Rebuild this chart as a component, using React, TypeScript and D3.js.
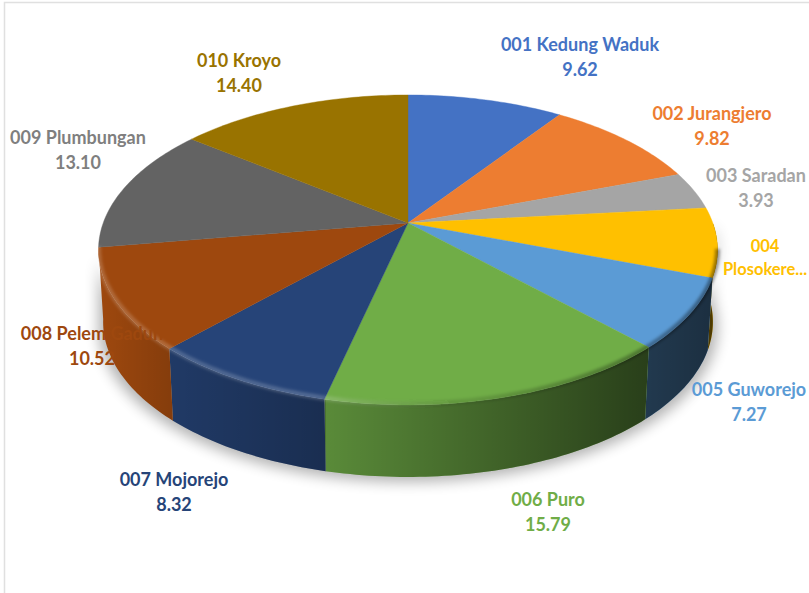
// App.tsx
import React, { useEffect, useRef } from 'react';
import * as d3 from 'd3';

const categories = ['001 Kedung Waduk', '002 Jurangjero', '003 Saradan', '004 Plosokere...', '005 Guworejo', '006 Puro', '007 Mojorejo', '008 Pelem Gaduh', '009 Plumbungan', '010 Kroyo'];
const values = [9.62, 9.82, 3.93, 7.23, 7.27, 15.79, 8.32, 10.52, 13.10, 14.40];
const colors = ['#4472c4', '#ed7d31', '#a5a5a5', '#ffc000', '#5b9bd5', '#70ad47', '#264478', '#9e480e', '#636363', '#997300'];
const labelColors = ['#4472c4', '#ed7d31', '#a5a5a5', '#ffc000', '#5b9bd5', '#70ad47', '#264478', '#9e480e', '#7f7f7f', '#997300'];
// which labels print the value under the name
const showValue = [true, true, true, false, true, true, true, true, true, true];

const width = 809;
const height = 593;

// label centre x / first baseline
const labelX = [580, 712, 756, 765, 749, 548, 174, 92, 78, 239];
const labelY = [51, 120, 182, 252, 396, 506, 486, 340, 144, 67];

const cx = 408;
const cy = 223;
const rx = 304.8;
const ry = 150.3;
const persp = 0.1739; // perspective squeeze towards the back of the pie
const wallH = 72;

const project = (a: number, drop = 0, sx = 1): [number, number] => {
  const d = 1 + persp * Math.cos(a);
  return [cx + (sx * rx * Math.sin(a)) / d, cy + drop - (ry * Math.cos(a)) / d];
};

const arcPoints = (a0: number, a1: number, drop = 0, sx = 1) => {
  const n = Math.max(2, Math.ceil((Math.abs(a1 - a0) * 180) / Math.PI));
  return d3.range(n + 1).map(i => project(a0 + ((a1 - a0) * i) / n, drop, sx));
};

const App = () => {
  const ref = useRef<SVGSVGElement>(null);

  useEffect(() => {
    const svg = d3.select(ref.current);
    svg.selectAll('*').remove();

    const slices = d3.pie<number>().sort(null)(values);
    const line = d3.line();
    const wallFrom = Math.PI / 2;
    const wallTo = (261 * Math.PI) / 180;

    const defs = svg.append('defs');
    defs.append('filter').attr('id', 'soft').attr('x', '-20%').attr('y', '-20%').attr('width', '140%').attr('height', '140%')
      .append('feGaussianBlur').attr('stdDeviation', 7);
    defs.append('filter').attr('id', 'rimBlur').attr('x', '-5%').attr('y', '-5%').attr('width', '110%').attr('height', '110%')
      .append('feGaussianBlur').attr('stdDeviation', 1.6);

    const wallGrad = defs.append('linearGradient').attr('id', 'wallShade')
      .attr('gradientUnits', 'userSpaceOnUse').attr('x1', 100).attr('x2', 715).attr('y1', 0).attr('y2', 0);
    [[0, 0], [0.11, 0.15], [0.368, 0.33], [0.368, 0.2], [0.87, 0.62], [1, 0.7]].forEach(([o, op]) => {
      wallGrad.append('stop').attr('offset', o).attr('stop-color', '#000').attr('stop-opacity', op);
    });

    const rimGrad = defs.append('linearGradient').attr('id', 'rimShade')
      .attr('gradientUnits', 'userSpaceOnUse').attr('x1', 100).attr('x2', 715).attr('y1', 0).attr('y2', 0);
    [['#fff', 0, 0.18], ['#fff', 0.35, 0.2], ['#000', 0.6, 0.12], ['#000', 1, 0.4]].forEach(([c, o, op]) => {
      rimGrad.append('stop').attr('offset', o as number).attr('stop-color', c as string).attr('stop-opacity', op as number);
    });

    // chart frame
    svg.append('rect').attr('x', 4.5).attr('y', 2.5).attr('width', width + 10).attr('height', height + 10)
      .attr('fill', '#fff').attr('stroke', '#e0e0e0').attr('stroke-width', 1.5);

    // drop shadow under the wall
    const shadow = arcPoints(wallFrom, wallTo, wallH + 5, 1);
    svg.append('path')
      .attr('d', line(shadow.concat(arcPoints(wallTo, wallFrom, 0))) + 'Z')
      .attr('fill', '#000').attr('opacity', 0.3).attr('filter', 'url(#soft)');

    // walls
    const wallPath = (a0: number, a1: number) =>
      line(arcPoints(a0, a1, 0).concat(arcPoints(a1, a0, wallH, 0.985))) + 'Z';

    slices.forEach((s, i) => {
      const a0 = Math.max(s.startAngle, wallFrom);
      const a1 = Math.min(s.endAngle, wallTo);
      if (a1 <= a0) return;
      svg.append('path').attr('d', wallPath(a0, a1)).attr('fill', colors[i]);
      svg.append('path').attr('d', wallPath(a0, a1)).attr('fill', 'url(#wallShade)');
    });

    // top faces
    slices.forEach((s, i) => {
      const pts = ([[cx, cy]] as [number, number][]).concat(arcPoints(s.startAngle, s.endAngle));
      svg.append('path').attr('d', line(pts) + 'Z').attr('fill', colors[i]).attr('stroke', colors[i]).attr('stroke-width', 0.4);
    });

    // bevel along the front rim
    svg.append('path')
      .attr('d', line(arcPoints((100 * Math.PI) / 180, wallTo, -1)))
      .attr('fill', 'none').attr('stroke', 'url(#rimShade)').attr('stroke-width', 5).attr('filter', 'url(#rimBlur)');

    // labels
    const labels = svg.append('g')
      .attr('font-family', 'Lato, "Open Sans", sans-serif')
      .attr('font-weight', 700)
      .attr('text-anchor', 'middle')
      .selectAll('text')
      .data(categories)
      .enter()
      .append('text')
      .attr('fill', (d, i) => labelColors[i])
      .attr('font-size', (d, i) => (showValue[i] ? 18 : 16.5));

    labels.each(function (d, i) {
      const t = d3.select(this);
      if (showValue[i]) {
        t.append('tspan').attr('x', labelX[i]).attr('y', labelY[i]).text(d);
        t.append('tspan').attr('x', labelX[i]).attr('y', labelY[i] + 25).text(values[i].toFixed(2));
      } else {
        const [a, b] = d.split(' ');
        t.append('tspan').attr('x', labelX[i]).attr('y', labelY[i]).text(a);
        t.append('tspan').attr('x', labelX[i]).attr('y', labelY[i] + 23).text(b);
      }
    });
  }, []);

  return (
    <svg
      ref={ref}
      width={width}
      height={height}
      style={{ position: 'absolute', left: 0, top: 0, background: '#fff' }}
    />
  );
};

export default App;
